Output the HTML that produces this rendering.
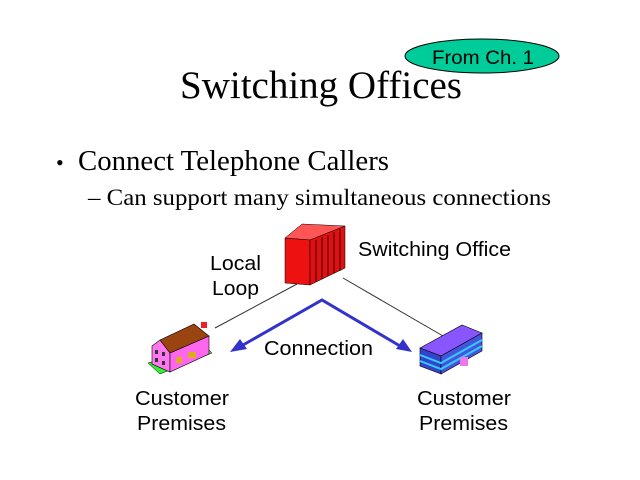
<!DOCTYPE html>
<html><head><meta charset="utf-8"><style>
html,body{margin:0;padding:0;background:#fff;}
svg{display:block}
</style></head><body>
<svg width="640" height="480" viewBox="0 0 640 480" xmlns="http://www.w3.org/2000/svg">
<rect width="640" height="480" fill="#fff"/>
<text x="180" y="98" textLength="282" lengthAdjust="spacingAndGlyphs" font-family="Liberation Serif, serif" font-size="39" fill="#000">Switching Offices</text>
<ellipse cx="482" cy="56" rx="77" ry="17" fill="#00cc99" stroke="#000" stroke-width="1"/>
<text x="432" y="64" textLength="102" lengthAdjust="spacingAndGlyphs" font-family="Liberation Sans, sans-serif" font-size="19" fill="#000">From Ch. 1</text>
<text x="56" y="170" font-family="Liberation Serif, serif" font-size="22" fill="#000">•</text>
<text x="78" y="170" textLength="311" lengthAdjust="spacingAndGlyphs" font-family="Liberation Serif, serif" font-size="28" fill="#000">Connect Telephone Callers</text>
<text x="88" y="205" textLength="463" lengthAdjust="spacingAndGlyphs" font-family="Liberation Serif, serif" font-size="23" fill="#000">– Can support many simultaneous connections</text>
<!-- lines -->
<line x1="297" y1="284" x2="215" y2="328" stroke="#333" stroke-width="1"/>
<line x1="343" y1="278" x2="443" y2="336" stroke="#333" stroke-width="1"/>
<!-- blue arrows -->
<polyline points="243,345 322,300 400,346" fill="none" stroke="#3333cc" stroke-width="3"/>
<polygon points="230,352 240,339 247,349" fill="#3333cc"/>
<polygon points="412,352 396,349 403,339" fill="#3333cc"/>
<!-- switch cube -->
<polygon points="285,238 302,224 345,226 310,240" fill="#ff5555" stroke="#000" stroke-width="0.5"/>
<polygon points="285,238 310,240 310,285 285,283" fill="#ee1111" stroke="#000" stroke-width="0.5"/>
<polygon points="310,240 345,226 345,268 310,285" fill="#dd1111" stroke="#000" stroke-width="0.5"/>
<g stroke="#400" stroke-width="1">
<line x1="316" y1="240" x2="316" y2="282"/><line x1="322" y1="237" x2="322" y2="279"/><line x1="328" y1="235" x2="328" y2="276"/><line x1="334" y1="232" x2="334" y2="273"/><line x1="340" y1="229" x2="340" y2="271"/>
</g>
<text x="358" y="256" textLength="153" lengthAdjust="spacingAndGlyphs" font-family="Liberation Sans, sans-serif" font-size="20" fill="#000">Switching Office</text>
<text x="210" y="270" textLength="51" lengthAdjust="spacingAndGlyphs" font-family="Liberation Sans, sans-serif" font-size="20" fill="#000">Local</text>
<text x="212" y="295" textLength="47" lengthAdjust="spacingAndGlyphs" font-family="Liberation Sans, sans-serif" font-size="20" fill="#000">Loop</text>
<text x="264" y="355" textLength="109" lengthAdjust="spacingAndGlyphs" font-family="Liberation Sans, sans-serif" font-size="20" fill="#000">Connection</text>
<!-- house -->
<polygon points="148,363 160,374 212,353 206,347" fill="#33ee33" stroke="#000" stroke-width="0.5"/>
<polygon points="152,346 160,340 170,353 170,372 152,364" fill="#ff77ee" stroke="#000" stroke-width="0.6"/>
<polygon points="170,353 209,336 209,354 170,372" fill="#ff66ee" stroke="#000" stroke-width="0.6"/>
<polygon points="160,340 194,324 209,336 170,353" fill="#994411" stroke="#000" stroke-width="0.6"/>
<rect x="201" y="322" width="6" height="6" fill="#ee2222"/>
<rect x="188" y="352" width="8" height="6" fill="#ddaa22"/><rect x="176" y="357" width="6" height="6" fill="#ddaa22"/>
<rect x="155" y="350" width="3" height="4" fill="#333"/><rect x="162" y="352" width="3" height="4" fill="#333"/>
<rect x="155" y="358" width="3" height="4" fill="#333"/><rect x="162" y="361" width="3" height="4" fill="#333"/>
<!-- building -->
<polygon points="420,348 462,325 482,333 441,356" fill="#8855ff" stroke="#000" stroke-width="0.6"/>
<polygon points="420,348 441,356 441,374 420,366" fill="#3344cc" stroke="#000" stroke-width="0.6"/>
<polygon points="441,356 482,333 482,351 441,374" fill="#4455dd" stroke="#000" stroke-width="0.6"/>
<polyline points="420,355 441,363 482,340" fill="none" stroke="#33ccff" stroke-width="2"/>
<polyline points="420,361 441,369 482,346" fill="none" stroke="#33ccff" stroke-width="2"/>
<rect x="460" y="357" width="8" height="9" fill="#ee77ee"/>
<text x="135" y="405" textLength="94" lengthAdjust="spacingAndGlyphs" font-family="Liberation Sans, sans-serif" font-size="20" fill="#000">Customer</text>
<text x="137" y="430" textLength="89" lengthAdjust="spacingAndGlyphs" font-family="Liberation Sans, sans-serif" font-size="20" fill="#000">Premises</text>
<text x="417" y="405" textLength="94" lengthAdjust="spacingAndGlyphs" font-family="Liberation Sans, sans-serif" font-size="20" fill="#000">Customer</text>
<text x="419" y="430" textLength="89" lengthAdjust="spacingAndGlyphs" font-family="Liberation Sans, sans-serif" font-size="20" fill="#000">Premises</text>
</svg>
</body></html>
